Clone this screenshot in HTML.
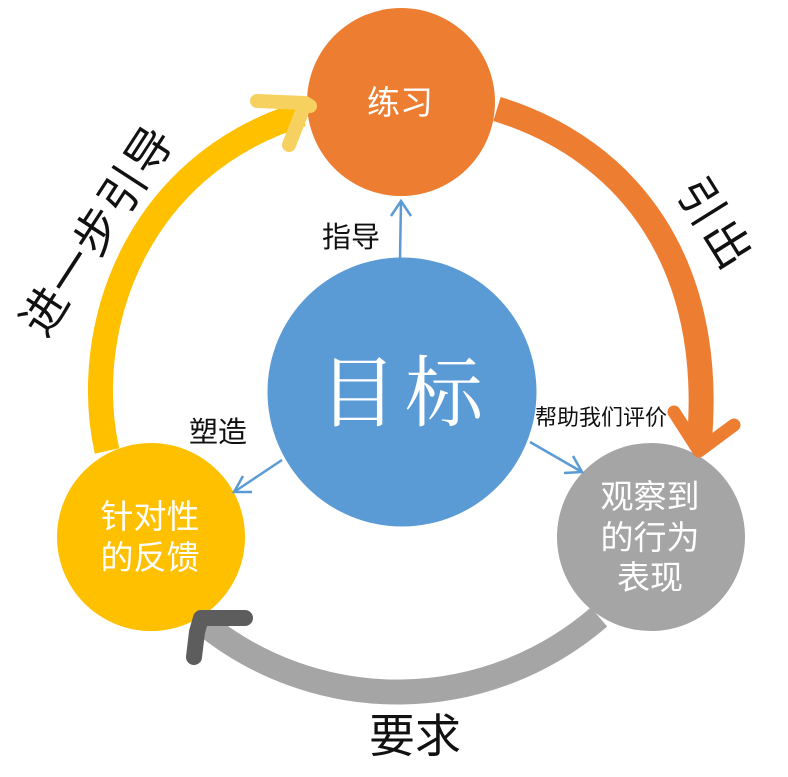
<!DOCTYPE html>
<html lang="zh">
<head>
<meta charset="utf-8">
<style>
html,body{margin:0;padding:0;background:#fff;}
svg{display:block;}
text{font-family:"Liberation Sans","Noto Sans CJK SC",sans-serif;text-anchor:middle;}
</style>
</head>
<body>
<svg width="788" height="777" viewBox="0 0 788 777" xmlns="http://www.w3.org/2000/svg">
  <rect width="788" height="777" fill="#fff"/>

  <!-- Outer arcs -->
  <path d="M497 109 C630 150 716 265 699 445" fill="none" stroke="#ED7D31" stroke-width="25"/>
  <path d="M599 617 A308 308 0 0 1 202 622" fill="none" stroke="#A5A5A5" stroke-width="25"/>
  <path d="M107 451 C80 330 135 165 302 114" fill="none" stroke="#FFC000" stroke-width="25"/>

  <!-- Circles -->
  <circle cx="401" cy="102" r="94" fill="#ED7D31"/>
  <circle cx="651" cy="537" r="94" fill="#A5A5A5"/>
  <circle cx="151" cy="537" r="94" fill="#FFC000"/>
  <circle cx="402" cy="392" r="134.5" fill="#5B9BD5"/>

  <!-- Hand-drawn arrowheads -->
  <path d="M257 101 L305 103 L310 106 M305 104 L289 145" fill="none" stroke="#F7D160" stroke-width="14" stroke-linecap="round" stroke-linejoin="round"/>
  <path d="M674 412 L699 451 L734 425" fill="none" stroke="#ED7D31" stroke-width="13" stroke-linecap="round" stroke-linejoin="round"/>
  <path d="M245 618 L201 618 L197 632 L194 657" fill="none" stroke="#5D5D5D" stroke-width="16" stroke-linecap="round" stroke-linejoin="round"/>

  <!-- Inner arrows -->
  <g fill="none" stroke="#5B9BD5" stroke-width="2.5">
    <path d="M400 258 L401 201"/>
    <path d="M391 216 L401 201 L411 216"/>
    <path d="M282 460 L234 492"/>
    <path d="M252 492 L234 492 L243 476"/>
    <path d="M530 442 L582 472"/>
    <path d="M564 473 L582 472 L573 456"/>
  </g>

  <!-- Circle labels -->
  <text x="400" y="114" font-size="33" fill="#fff">练习</text>
  <text x="405" y="420" font-size="78" letter-spacing="8" fill="#fff" style="font-family:'Liberation Serif','Noto Serif CJK SC',serif">目标</text>
  <text x="150" y="528" font-size="33" fill="#fff">针对性</text>
  <text x="150" y="569" font-size="33" fill="#fff">的反馈</text>
  <text x="650" y="508" font-size="33" fill="#fff">观察到</text>
  <text x="650" y="549" font-size="33" fill="#fff">的行为</text>
  <text x="650" y="589" font-size="33" fill="#fff">表现</text>

  <!-- Other labels -->
  <text x="351" y="247" font-size="29" fill="#111">指导</text>
  <text x="218" y="442" font-size="29" fill="#111">塑造</text>
  <text x="601" y="425" font-size="22" fill="#111">帮助我们评价</text>
  <text x="415" y="752" font-size="46" fill="#111">要求</text>
  <text transform="translate(97 231) rotate(-57)" x="1" y="16" font-size="46" letter-spacing="2" fill="#111">进一步引导</text>
  <text transform="translate(714 223) rotate(58)" x="2" y="16" font-size="46" letter-spacing="4" fill="#111">引出</text>
</svg>
</body>
</html>
